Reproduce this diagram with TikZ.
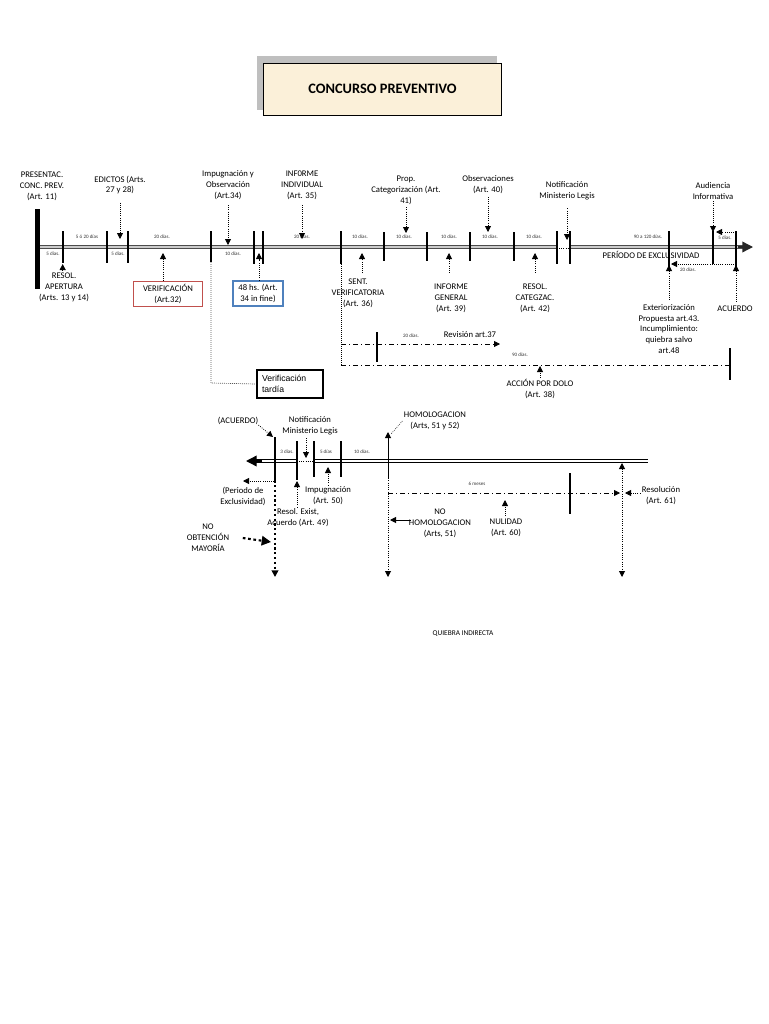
\documentclass[tikz,border=0pt]{standalone}
\usepackage{fontspec}
\setmainfont{Carlito}
\newfontfamily\arialfont{Liberation Sans}
\usetikzlibrary{arrows.meta}

\definecolor{crema}{RGB}{251,240,217}
\definecolor{sombra}{RGB}{191,191,191}
\definecolor{rojo}{RGB}{192,80,77}
\definecolor{azul}{RGB}{79,129,189}

\tikzset{
	lbl/.style={font=\fontsize{6.5}{8.2}\selectfont, align=center, inner sep=0pt},
	dias/.style={font=\fontsize{3.8}{4.5}\selectfont, inner sep=0pt, text=black!80},
	marca/.style={line width=0.8pt},
	linea/.style={draw=black!70, double=black!20, line width=0.8pt, double distance=1.3pt},
	lineanegra/.style={draw=black, double=white, line width=0.7pt, double distance=1.4pt},
	punta/.style={-{Triangle[length=4.5pt,width=4.5pt]}},
	puntos/.style={densely dotted, line width=0.6pt, punta},
	rayapunto/.style={dash pattern=on 4pt off 2pt on 1pt off 2pt, line width=0.6pt},
	caja/.style={lbl, line width=1.2pt, minimum height=18.5pt},
}

\begin{document}
\begin{tikzpicture}[x=0.75pt, y=-0.75pt]
			\useasboundingbox (0,0) rectangle (768,1024);
			%%%%% TITULO %%%%%
			
			\fill[sombra] (257,56) rectangle (497,110);
			\node[draw, fill=crema, line width=0.7pt, minimum width=179pt, minimum height=39pt, font=\bfseries\fontsize{10.8}{12}\selectfont] (titulo) at (382.5,89) {CONCURSO PREVENTIVO};
			
			%%%%% LINEA SUPERIOR %%%%%
			
			\draw[linea] (37,247) -- (557,247);
			\draw[densely dotted, line width=0.6pt] (557,248) -- (570,248);
			\draw[linea] (570,247) -- (744,247);
			\draw[-{Triangle[length=8pt,width=8pt]}, line width=1pt, black!85] (738,247) -- (753,247);
			\fill (35,209) rectangle (40,289);
			
			\foreach \x/\a/\b in {63/231/263, 128/231/263, 211/231/262, 254/231/264, 263/231/264, 341/231/264, 384/232/261, 427/232/261, 470/232/261, 514/232/261, 557/231/264, 570/231/264, 669/231/268, 713/231/264}
				\draw[marca] (\x,\a) -- (\x,\b);
			\draw[line width=1.3pt] (107,231) -- (107,263);
			\draw[line width=1.3pt] (736,231) -- (736,268);
			
			\foreach \x/\y/\t [count=\i] in {53/254/5 días., 87/237/5 ó 20 días, 118/254/5 días., 162/237/20 días., 233/254/10 días., 302/237/20 días., 360/237/10 días., 404/237/10 días., 449/237/10 días., 490/237/10 días., 534/237/10 días., 648/237/90 a 120 días., 725/238/5 días., 688/270/20 días.}
				\node[dias] (d\i) at (\x,\y) {\t};
			
			% arriba
			\node[lbl] (presentac) at (42,186) {PRESENTAC.\\CONC. PREV.\\(Art. 11)};
			\node[lbl] (edictos) at (120,185) {EDICTOS (Arts.\\27 y 28)};
			\node[lbl] (impug) at (228,185) {Impugnación y\\Observación\\(Art.34)};
			\node[lbl] (infind) at (302,185) {INF0RME\\INDIVIDUAL\\(Art. 35)};
			\node[lbl] (propcat) at (406,190) {Prop.\\Categorización (Art.\\41)};
			\node[lbl] (observ) at (488,185) {Observaciones\\(Art. 40)};
			\node[lbl] (notif) at (567,191) {Notificación\\Ministerio Legis};
			\node[lbl] (audiencia) at (713,191) {Audiencia\\Informativa};
			
			\draw[puntos] ([yshift=-6pt]edictos.south) -- (edictos.south |- 0,239);
			\draw[puntos] ([yshift=-4pt]impug.south) -- (impug.south |- 0,245);
			\draw[puntos] ([yshift=-4pt]infind.south) -- (infind.south |- 0,239);
			\draw[puntos] ([yshift=-2pt]propcat.south) -- (propcat.south |- 0,233);
			\draw[puntos] ([yshift=-2pt]observ.south) -- (observ.south |- 0,232);
			\draw[puntos] ([yshift=-6pt]notif.south) -- (notif.south |- 0,240);
			\draw[puntos] ([yshift=-1pt]audiencia.south) -- (audiencia.south |- 0,232);
			
			% abajo
			\node[lbl] (resol) at (64,287) {RESOL.\\APERTURA\\(Arts. 13 y 14)};
			\node[caja, draw=rojo, minimum width=52pt] (verif) at (168,294) {VERIFICACIÓN\\(Art.32)};
			\node[caja, draw=azul, minimum width=37.5pt] (horas) at (258,293.5) {48 hs. (Art.\\34 in fine)};
			\node[lbl] (sent) at (358,293) {SENT.\\VERIFICATORIA\\(Art. 36)};
			\node[lbl] (infgen) at (451,298) {INFORME\\GENERAL\\(Art. 39)};
			\node[lbl] (resolcat) at (535,298) {RESOL.\\CATEGZAC.\\(Art. 42)};
			\node[lbl] (exterior) at (669,329) {Exteriorización\\Propuesta art.43.\\Incumplimiento:\\quiebra salvo\\art.48};
			\node[lbl] (acuerdo) at (735,309) {ACUERDO};
			\node[lbl] (periodo) at (651,255) {PERÍODO DE EXCLUSIVIDAD};
			
			\draw[puntos] ([xshift=-1pt,yshift=1pt]resol.north) -- ([xshift=-1pt]resol.north |- 0,264);
			\draw[puntos] ([xshift=-3.75pt]verif.north) -- ([xshift=-3.75pt]verif.north |- 0,253);
			\draw[puntos] ([xshift=0.75pt]horas.north) -- ([xshift=0.75pt]horas.north |- 0,253);
			\draw[puntos] ([xshift=3pt,yshift=4pt]sent.north) -- ([xshift=3pt]sent.north |- 0,253);
			\draw[puntos] ([xshift=-1.5pt,yshift=8pt]infgen.north) -- ([xshift=-1.5pt]infgen.north |- 0,253);
			\draw[puntos] ([yshift=8pt]resolcat.north) -- (resolcat.north |- 0,253);
			\draw[puntos] ([yshift=3pt]exterior.north) -- (exterior.north |- 0,265);
			\draw[puntos] ([xshift=0.75pt,yshift=3pt]acuerdo.north) -- ([xshift=0.75pt]acuerdo.north |- 0,265);
			
			% plazos audiencia
			\draw[puntos] (736,232) -- (716,232);
			\draw[puntos] (736,264) -- (671,264);
			
			%%%%% VERIFICACION TARDIA Y REVISION %%%%%
			
			\node[draw, line width=1.4pt, minimum width=50pt, minimum height=21pt, inner sep=2pt, align=left, text width=42pt, font=\arialfont\fontsize{6.5}{8}\selectfont] (tardia) at (290,384) {Verificación\\tardía};
			\draw[densely dotted, line width=0.5pt] (211,262) -- (211,383) -- (tardia.west);
			
			\draw[densely dotted, line width=0.5pt] (341,264) -- (341,365);
			\coordinate (revfin) at (500,344);
			\draw[rayapunto, punta] (341,344) -- (revfin);
			\draw[marca] (377,332) -- (377,362);
			\node[dias] (d20rev) at (411,336) {20 días.};
			\node[lbl] (revision) at (470,335) {Revisión art.37};
			
			\coordinate (dolofin) at (730,365);
			\draw[rayapunto] (341,365) -- (dolofin);
			\draw[marca] (730,348) -- (730,380);
			\node[dias] (d90) at (520,355) {90 días.};
			\node[lbl] (dolo) at (540,389) {ACCIÓN POR DOLO\\(Art. 38)};
			\draw[puntos] ([yshift=1pt]dolo.north) -- (dolo.north |- 0,366);
			
			%%%%% LINEA INFERIOR %%%%%
			
			\draw[lineanegra] (256,461) -- (297,461);
			\draw[densely dotted, line width=0.6pt] (297,461) -- (314,461);
			\draw[lineanegra] (314,461) -- (648,461);
			\draw[-{Triangle[length=8pt,width=8pt]}, line width=1pt] (262,461) -- (246,461);
			
			\foreach \x/\a/\b in {297/441/480, 314/441/477, 341/441/477, 570/473/514}
				\draw[marca] (\x,\a) -- (\x,\b);
			
			\node[dias] (d3) at (287,452) {3 días.};
			\node[dias] (d5) at (326,452) {5 días};
			\node[dias] (d10) at (362,452) {10 días.};
			\node[dias] (meses) at (477,484) {6 meses};
			
			% acuerdo
			\node[lbl] (acuerdob) at (238,421) {(ACUERDO)};
			\draw[line width=1.6pt] (275,437) -- (275,483);
			\draw[line width=1.6pt, dotted, -{Triangle[length=5pt,width=5pt]}] (275,485) -- (275,577);
			\draw[puntos] (acuerdob.south east) -- (273,437);
			\node[lbl] (excl) at (243,496) {(Periodo de\\Exclusividad)};
			\coordinate (exclfin) at (243,481);
			\draw[puntos] (274,481) -- (exclfin);
			
			\node[lbl] (notifb) at (310,426) {Notificación\\Ministerio Legis};
			\draw[puntos] ([xshift=-3pt,yshift=-2pt]notifb.south) -- ([xshift=-3pt]notifb.south |- 0,458);
			\node[lbl] (resolexist) at (298,518) {Resol. Exist,\\Acuerdo (Art. 49)};
			\draw[puntos] ([xshift=-0.75pt,yshift=1pt]resolexist.north) -- ([xshift=-0.75pt]resolexist.north |- 0,481);
			\node[lbl] (impugb) at (328,496) {Impugnación\\(Art. 50)};
			\draw[puntos] ([yshift=1pt]impugb.north) -- (impugb.north |- 0,467);
			
			\node[lbl] (noobt) at (208,538) {NO\\OBTENCIÓN\\MAYORÍA};
			\draw[line width=1.6pt, dash pattern=on 2pt off 2pt, -{Triangle[length=7pt,width=7pt]}] ([xshift=10pt]noobt.east) -- (271,542);
			
			% homologacion
			\node[lbl] (homolog) at (435,421) {HOMOLOGACION\\(Arts, 51 y 52)};
			\draw[line width=0.7pt, punta] (388,478) -- (388,432);
			\draw[densely dotted, line width=0.7pt, punta] (388,478) -- (388,577);
			\draw[densely dotted, line width=0.5pt] ([xshift=-1pt]homolog.west) -- (391,434);
			\coordinate (mesesfin) at (620,493);
			\draw[rayapunto, punta] (388,493) -- (mesesfin);
			
			\node[lbl] (nohomolog) at (440,523) {NO\\HOMOLOGACION\\(Arts, 51)};
			\draw[line width=0.7pt, punta] (411,520) -- (390,520);
			\node[lbl] (nulidad) at (506,528) {NULIDAD\\(Art. 60)};
			\draw[puntos] ([xshift=-0.75pt,yshift=2pt]nulidad.north) -- ([xshift=-0.75pt]nulidad.north |- 0,500);
			
			% resolucion
			\draw[densely dotted, line width=0.7pt, {Triangle[length=4.5pt,width=4.5pt]}-{Triangle[length=4.5pt,width=4.5pt]}] (622,463) -- (622,577);
			\node[lbl] (resolucion) at (661,496) {Resolución\\(Art. 61)};
			\draw[puntos] ([xshift=-1pt]resolucion.west |- 0,493) -- (625,493);
			
			\node[lbl, font=\fontsize{5.5}{7}\selectfont] (quiebra) at (463,634) {QUIEBRA INDIRECTA};
			
			%%%%% END %%%%%
		\end{tikzpicture}
\end{document}
